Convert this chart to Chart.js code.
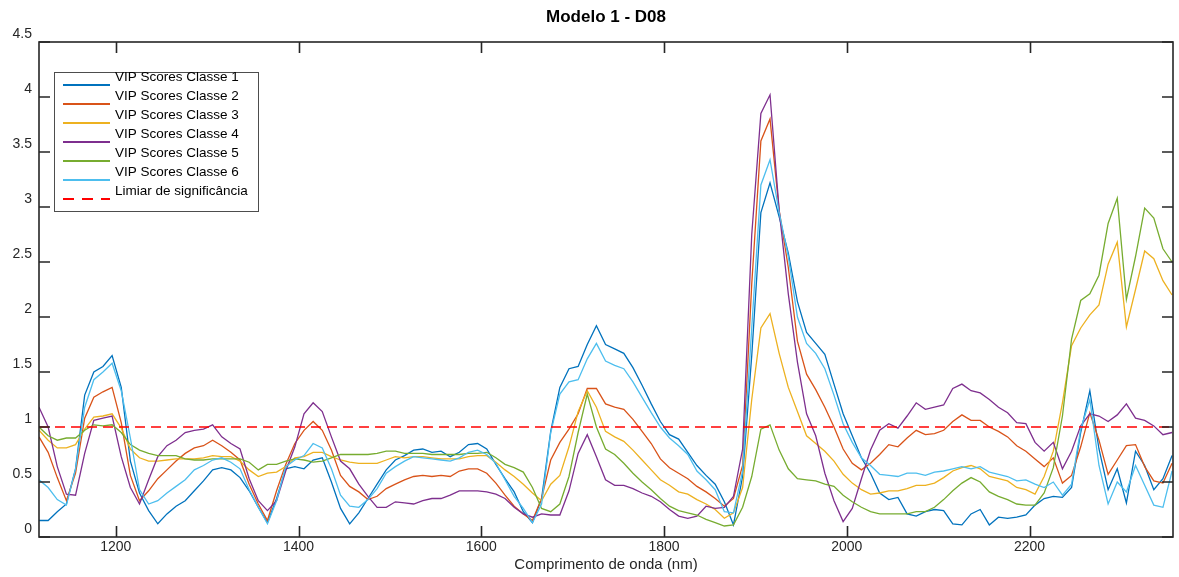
<!DOCTYPE html>
<html><head><meta charset="utf-8">
<script src="https://cdn.jsdelivr.net/npm/chart.js@4/dist/chart.umd.min.js"></script>
<style>html,body{margin:0;padding:0;background:#fff;}canvas{display:block;}</style>
</head><body>
<canvas id="c" width="1179" height="577"></canvas>
<script>
const chartTitle = 'Modelo 1 - D08';
const xAxisTitle = 'Comprimento de onda (nm)';
const wavelengths = [1116,1126,1136,1146,1156,1166,1176,1186,1196,1206,
1216,1226,1236,1246,1256,1266,1276,1286,1296,1306,
1316,1326,1336,1346,1356,1366,1376,1386,1396,1406,
1416,1426,1436,1446,1456,1466,1476,1486,1496,1506,
1516,1526,1536,1546,1556,1566,1576,1586,1596,1606,
1616,1626,1636,1646,1656,1666,1676,1686,1696,1706,
1716,1726,1736,1746,1756,1766,1776,1786,1796,1806,
1816,1826,1836,1846,1856,1866,1876,1886,1896,1906,
1916,1926,1936,1946,1956,1966,1976,1986,1996,2006,
2016,2026,2036,2046,2056,2066,2076,2086,2096,2106,
2116,2126,2136,2146,2156,2166,2176,2186,2196,2206,
2216,2226,2236,2246,2256,2266,2276,2286,2296,2306,
2316,2326,2336,2346,2356];
const classe1 = [0.15,0.15,0.23,0.30,0.62,1.29,1.50,1.55,1.65,1.36,
0.69,0.40,0.24,0.12,0.21,0.28,0.33,0.42,0.51,0.61,
0.63,0.61,0.54,0.42,0.27,0.13,0.35,0.62,0.64,0.62,
0.70,0.72,0.50,0.26,0.12,0.22,0.35,0.48,0.61,0.70,
0.74,0.79,0.80,0.77,0.78,0.73,0.77,0.84,0.85,0.80,
0.66,0.53,0.41,0.23,0.13,0.35,0.96,1.36,1.53,1.55,
1.75,1.92,1.75,1.71,1.67,1.54,1.38,1.21,1.05,0.93,
0.89,0.77,0.65,0.56,0.48,0.32,0.11,0.55,1.65,2.95,
3.22,2.91,2.58,2.14,1.86,1.76,1.66,1.39,1.12,0.92,
0.72,0.58,0.40,0.34,0.36,0.21,0.19,0.23,0.25,0.24,
0.12,0.11,0.21,0.25,0.11,0.18,0.17,0.18,0.20,0.29,
0.35,0.37,0.36,0.45,0.95,1.33,0.80,0.43,0.62,0.31,
0.78,0.65,0.43,0.53,0.74];
const classe2 = [0.91,0.77,0.54,0.33,0.58,1.08,1.27,1.32,1.36,1.04,
0.56,0.33,0.42,0.53,0.61,0.69,0.76,0.81,0.83,0.88,
0.83,0.77,0.70,0.48,0.30,0.15,0.42,0.66,0.85,0.97,
1.05,0.97,0.79,0.56,0.46,0.41,0.34,0.37,0.44,0.48,
0.52,0.55,0.56,0.55,0.56,0.55,0.60,0.62,0.62,0.58,
0.49,0.38,0.28,0.21,0.15,0.35,0.70,0.86,0.98,1.12,
1.35,1.35,1.21,1.18,1.16,1.07,0.96,0.85,0.71,0.63,
0.58,0.53,0.46,0.41,0.35,0.28,0.35,0.65,2.30,3.60,
3.80,2.97,2.45,1.78,1.48,1.34,1.18,1.00,0.80,0.67,
0.61,0.67,0.75,0.84,0.82,0.90,0.97,0.93,0.94,0.97,
1.05,1.11,1.06,1.06,1.00,0.96,0.91,0.83,0.78,0.71,
0.64,0.72,0.49,0.56,0.82,1.13,0.88,0.57,0.70,0.83,
0.84,0.64,0.51,0.49,0.67];
const classe3 = [0.97,0.88,0.81,0.81,0.84,0.98,1.09,1.10,1.12,0.99,
0.80,0.72,0.69,0.69,0.70,0.71,0.71,0.71,0.72,0.74,
0.73,0.73,0.69,0.61,0.55,0.58,0.59,0.64,0.72,0.73,
0.77,0.77,0.73,0.70,0.68,0.67,0.67,0.67,0.70,0.73,
0.72,0.73,0.73,0.72,0.71,0.71,0.71,0.73,0.74,0.74,
0.68,0.61,0.55,0.48,0.40,0.33,0.48,0.56,0.82,1.14,
1.33,1.18,0.96,0.91,0.87,0.79,0.70,0.61,0.52,0.47,
0.41,0.39,0.34,0.30,0.25,0.17,0.22,0.45,1.25,1.90,
2.03,1.67,1.36,1.14,0.92,0.85,0.78,0.69,0.57,0.49,
0.43,0.39,0.40,0.42,0.42,0.44,0.47,0.47,0.49,0.54,
0.60,0.63,0.65,0.62,0.55,0.53,0.51,0.45,0.43,0.39,
0.55,0.78,1.22,1.74,1.90,2.02,2.11,2.48,2.68,1.91,
2.25,2.60,2.53,2.33,2.20];
const classe4 = [1.18,1.00,0.64,0.39,0.38,0.76,1.06,1.08,1.10,0.73,
0.45,0.30,0.52,0.73,0.83,0.88,0.95,0.97,0.98,1.02,
0.91,0.85,0.80,0.53,0.33,0.24,0.33,0.60,0.82,1.12,
1.22,1.14,0.91,0.69,0.62,0.48,0.37,0.27,0.27,0.32,
0.31,0.30,0.33,0.35,0.35,0.38,0.42,0.42,0.42,0.41,
0.39,0.35,0.27,0.21,0.18,0.21,0.20,0.20,0.42,0.76,
0.93,0.73,0.52,0.47,0.47,0.44,0.40,0.37,0.32,0.25,
0.19,0.17,0.19,0.28,0.26,0.27,0.37,0.80,2.75,3.85,
4.02,2.97,2.21,1.59,1.12,0.92,0.58,0.33,0.14,0.26,
0.53,0.79,0.97,1.03,0.99,1.10,1.22,1.16,1.18,1.20,
1.35,1.39,1.33,1.31,1.25,1.18,1.13,1.04,1.03,0.86,
0.78,0.86,0.62,0.78,1.01,1.12,1.10,1.05,1.11,1.21,
1.08,1.06,1.01,0.93,0.95];
const classe5 = [1.00,0.92,0.88,0.90,0.90,0.97,1.02,1.01,1.02,0.95,
0.84,0.79,0.76,0.74,0.74,0.74,0.71,0.70,0.70,0.71,
0.71,0.71,0.71,0.68,0.61,0.66,0.66,0.69,0.71,0.70,
0.68,0.69,0.72,0.75,0.75,0.75,0.75,0.76,0.78,0.78,
0.76,0.76,0.76,0.75,0.75,0.75,0.75,0.76,0.76,0.77,
0.72,0.66,0.63,0.59,0.45,0.26,0.23,0.30,0.55,0.95,
1.30,1.00,0.80,0.75,0.67,0.58,0.50,0.43,0.35,0.28,
0.24,0.22,0.20,0.16,0.13,0.10,0.11,0.27,0.55,0.98,
1.02,0.79,0.62,0.53,0.52,0.51,0.48,0.46,0.38,0.32,
0.27,0.23,0.21,0.21,0.21,0.21,0.23,0.23,0.27,0.34,
0.42,0.49,0.54,0.50,0.41,0.37,0.34,0.30,0.29,0.29,
0.40,0.63,1.10,1.80,2.15,2.21,2.38,2.85,3.08,2.16,
2.55,2.99,2.90,2.62,2.50];
const classe6 = [0.52,0.45,0.34,0.29,0.62,1.18,1.43,1.50,1.58,1.33,
0.90,0.43,0.30,0.33,0.40,0.46,0.52,0.61,0.65,0.70,
0.72,0.68,0.62,0.43,0.27,0.12,0.33,0.64,0.70,0.74,
0.85,0.81,0.62,0.38,0.28,0.27,0.34,0.44,0.58,0.64,
0.69,0.73,0.72,0.71,0.70,0.69,0.72,0.77,0.79,0.75,
0.67,0.52,0.37,0.26,0.13,0.30,0.95,1.30,1.41,1.43,
1.62,1.76,1.60,1.56,1.53,1.41,1.27,1.13,1.00,0.90,
0.83,0.75,0.60,0.52,0.43,0.23,0.22,0.60,1.90,3.20,
3.43,2.95,2.55,2.00,1.76,1.67,1.53,1.29,1.03,0.86,
0.72,0.65,0.57,0.56,0.55,0.58,0.58,0.56,0.59,0.60,
0.62,0.64,0.62,0.64,0.59,0.57,0.55,0.51,0.52,0.48,
0.45,0.50,0.38,0.48,0.98,1.25,0.65,0.30,0.50,0.41,
0.65,0.47,0.29,0.27,0.60];
const threshold = 1;
const xMin = 1116, xMax = 2357;
const xTicks = [1200,1400,1600,1800,2000,2200];
const yTicks = [0,0.5,1,1.5,2,2.5,3,3.5,4,4.5];
const seriesNames = ['VIP Scores Classe 1','VIP Scores Classe 2','VIP Scores Classe 3','VIP Scores Classe 4','VIP Scores Classe 5','VIP Scores Classe 6'];
const thresholdName = 'Limiar de significância';
const seriesColors = ['#0072BD','#D95319','#EDB120','#7E2F8E','#77AC30','#4DBEEE'];
const thresholdColor = '#FF0000';

const FONT = '"Liberation Sans", Arial, Helvetica, sans-serif';
const AX = '#262626';
const allSeries = [classe1, classe2, classe3, classe4, classe5, classe6];

const datasets = allSeries.map((vals, i) => ({
  label: seriesNames[i],
  data: wavelengths.map((w, k) => ({x: w, y: vals[k]})),
  borderColor: seriesColors[i],
  borderWidth: 1.3,
  pointRadius: 0,
  tension: 0,
  fill: false,
  order: 10 - i
}));
datasets.push({
  label: thresholdName,
  data: [{x: xMin, y: threshold}, {x: xMax, y: threshold}],
  borderColor: thresholdColor,
  borderWidth: 1.3,
  borderDash: [10, 6],
  pointRadius: 0,
  fill: false,
  order: 0
});

const decor = {
  id: 'decor',
  afterDraw(chart) {
    const {ctx, chartArea: a, scales: {x, y}} = chart;
    ctx.save();
    ctx.strokeStyle = AX; ctx.lineWidth = 1.6; ctx.setLineDash([]);
    ctx.strokeRect(a.left, a.top, a.right - a.left, a.bottom - a.top);
    const T = 11;
    ctx.beginPath();
    xTicks.forEach(v => {
      const px = Math.round(x.getPixelForValue(v)) + 0.5;
      ctx.moveTo(px, a.bottom); ctx.lineTo(px, a.bottom - T);
      ctx.moveTo(px, a.top); ctx.lineTo(px, a.top + T);
    });
    yTicks.forEach(v => {
      const py = y.getPixelForValue(v);
      ctx.moveTo(a.left, py); ctx.lineTo(a.left + T, py);
      ctx.moveTo(a.right, py); ctx.lineTo(a.right - T, py);
    });
    ctx.stroke();
    ctx.fillStyle = '#000';
    ctx.font = 'bold 17px ' + FONT;
    ctx.textAlign = 'center'; ctx.textBaseline = 'middle';
    ctx.fillText(chartTitle, (a.left + a.right) / 2, 17);
    ctx.fillStyle = AX;
    ctx.font = '15px ' + FONT;
    ctx.fillText(xAxisTitle, (a.left + a.right) / 2, 565);
    const lx = 54.5, ly = 72.5, lw = 204, lh = 139;
    ctx.fillStyle = '#fff';
    ctx.fillRect(lx, ly, lw, lh);
    ctx.strokeStyle = '#4d4d4d'; ctx.lineWidth = 1;
    ctx.strokeRect(lx, ly, lw, lh);
    ctx.font = '13.5px ' + FONT;
    ctx.textAlign = 'left'; ctx.textBaseline = 'middle';
    const names = seriesNames.concat([thresholdName]);
    const cols = seriesColors.concat([thresholdColor]);
    names.forEach((n, i) => {
      const yl = 85 + 19 * i;
      ctx.strokeStyle = cols[i]; ctx.lineWidth = 2;
      ctx.setLineDash(i === 6 ? [11, 8] : []);
      ctx.beginPath(); ctx.moveTo(63, yl); ctx.lineTo(110, yl); ctx.stroke();
      ctx.setLineDash([]);
      ctx.fillStyle = '#000';
      ctx.fillText(n, 115, yl - 8);
    });
    ctx.restore();
  }
};

new Chart(document.getElementById('c'), {
  type: 'line',
  data: {datasets},
  options: {
    responsive: false, animation: false, devicePixelRatio: 1,
    layout: {padding: {top: 42, right: 6, left: 0, bottom: 0}},
    plugins: {legend: {display: false}, title: {display: false}, tooltip: {enabled: false}},
    scales: {
      x: {
        type: 'linear', min: xMin, max: xMax,
        grid: {display: false, drawTicks: false}, border: {display: false},
        afterBuildTicks: s => { s.ticks = xTicks.map(v => ({value: v})); },
        afterFit: s => { s.height = 40; },
        ticks: {padding: 2, color: AX, font: {family: FONT, size: 14}, maxRotation: 0, autoSkip: false, callback: v => String(v)}
      },
      y: {
        type: 'linear', min: 0, max: 4.5,
        grid: {display: false, drawTicks: false}, border: {display: false},
        afterBuildTicks: s => { s.ticks = yTicks.map(v => ({value: v})); },
        afterFit: s => { s.width = 39; },
        ticks: {padding: 7, labelOffset: -8, color: AX, font: {family: FONT, size: 14}, autoSkip: false, callback: v => String(v)}
      }
    }
  },
  plugins: [decor]
});
</script>
</body></html>
